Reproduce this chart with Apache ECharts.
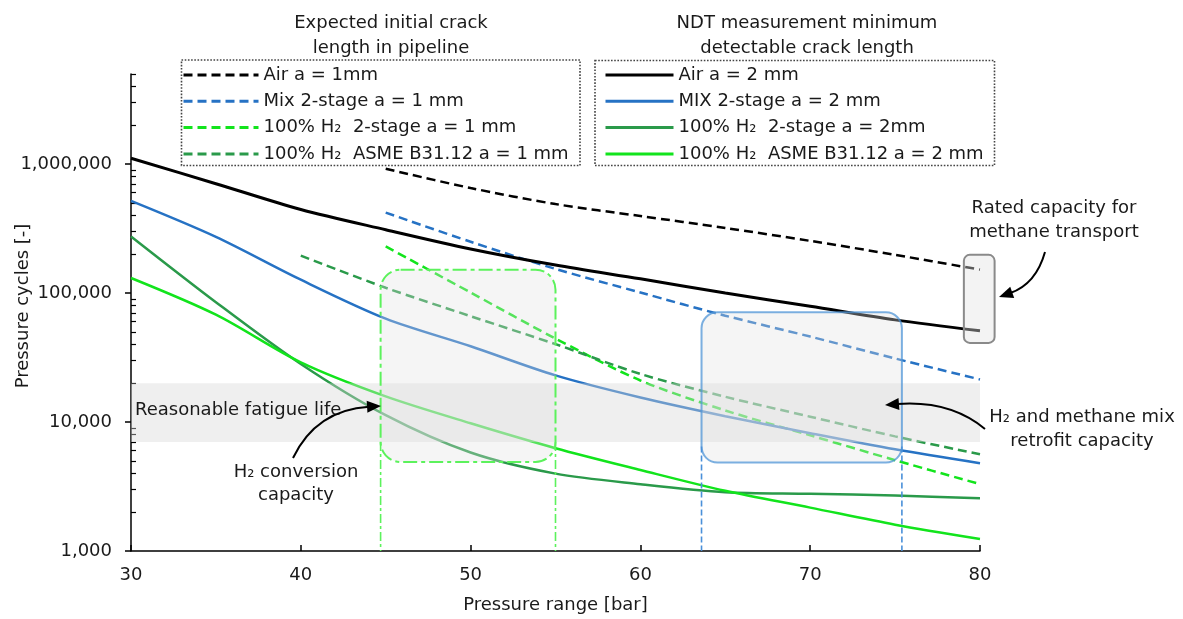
<!DOCTYPE html>
<html>
<head>
<meta charset="utf-8">
<title>Pressure cycles vs pressure range</title>
<script src="https://cdn.jsdelivr.net/npm/echarts@6/dist/echarts.min.js"></script>
<style>
html, body { margin: 0; padding: 0; background: #fff; }
#chart { width: 1183px; height: 619px; }
</style>
</head>
<body>
<div id="chart"></div>
<script>
// pressure range [bar]
var pressure = [30, 35, 40, 45, 50, 55, 60, 65, 70, 75, 80];
var pressureFrom40 = [40, 45, 50, 55, 60, 65, 70, 75, 80];
var pressureFrom45 = [45, 50, 55, 60, 65, 70, 75, 80];

// a = 2 mm (solid)
var airA2 = [1110000, 705000, 445000, 310000, 220000, 165000, 129000, 100000, 79000, 62000, 51000];
var mixA2 = [519000, 273000, 127000, 63400, 38700, 23000, 15500, 11100, 8200, 6150, 4800];
var h2StageA2 = [275000, 85000, 28200, 11300, 5800, 3980, 3300, 2860, 2780, 2690, 2560];
var h2AsmeA2 = [131000, 68000, 29000, 15800, 9780, 6270, 4250, 2930, 2170, 1600, 1240];

// a = 1 mm (dashed)
var airA1 = [920000, 653000, 490000, 396000, 320000, 254000, 198000, 152000];
var mixA1 = [421000, 250000, 154000, 101000, 66800, 46000, 31100, 21400];
var h2StageA1 = [230000, 101000, 44400, 21000, 12300, 7890, 5060, 3300];
var h2AsmeA1 = [195000, 110000, 66200, 40200, 23600, 15700, 11000, 7740, 5620];

// axis ticks
var majorTicks = [1000, 10000, 100000, 1000000];
var minorTicks = [2000, 3000, 4000, 5000, 6000, 7000, 8000, 9000,
  20000, 30000, 40000, 50000, 60000, 70000, 80000, 90000,
  200000, 300000, 400000, 500000, 600000, 700000, 800000, 900000,
  2000000, 3000000, 4000000, 5000000];

// annotation ranges (data units)
var fatigueBand = [7000, 20000];
var h2Window = [44.7, 55.0];
var h2WindowCycles = [4900, 152000];
var mixWindow = [63.6, 75.4];
var mixWindowCycles = [4850, 71000];
var ratedWindow = [79.05, 80.86];
var ratedWindowCycles = [41100, 198000];

var FONT = 'DejaVu Sans';
var BLACK = '#000000';
var BLUE = '#2672c4';
var DGREEN = '#2a9a4a';
var LGREEN = '#12e41c';

function pairs(xs, ys) {
  return xs.map(function (x, i) { return [x, ys[i]]; });
}

function lineSeries(name, xs, ys, color, dashed, width) {
  return {
    name: name,
    type: 'line',
    data: pairs(xs, ys),
    symbol: 'none',
    smooth: 0.3,
    z: 2,
    lineStyle: { color: color, width: width || 2.5, type: dashed ? [9, 5] : 'solid' },
    itemStyle: { color: color }
  };
}

var legendLeftNames = ['Air a = 1mm', 'Mix 2-stage a = 1 mm', '100% H₂  2-stage a = 1 mm', '100% H₂  ASME B31.12 a = 1 mm'];
var legendRightNames = ['Air a = 2 mm', 'MIX 2-stage a = 2 mm', '100% H₂  2-stage a = 2mm', '100% H₂  ASME B31.12 a = 2 mm'];

var legendText = { fontFamily: FONT, fontSize: 18, color: '#1a1a1a', lineHeight: 20 };

var chart = echarts.init(document.getElementById('chart'));
var option = {
  animation: false,
  backgroundColor: '#ffffff',
  textStyle: { fontFamily: FONT },
  grid: { left: 131, right: 203, top: 74, bottom: 67 },
  legend: [
    {
      data: legendLeftNames, orient: 'vertical', left: 182, top: 65, padding: 0,
      itemWidth: 75, itemHeight: 14, itemGap: 6.3, z: 10,
      itemStyle: { opacity: 0 },
      lineStyle: { width: 3 },
      textStyle: legendText
    },
    {
      data: legendRightNames, orient: 'vertical', left: 604, top: 65, padding: 0,
      itemWidth: 68, itemHeight: 14, itemGap: 6.3, z: 10,
      itemStyle: { opacity: 0 },
      lineStyle: { width: 3 },
      textStyle: legendText
    }
  ],
  xAxis: {
    type: 'value', min: 30, max: 80, interval: 10,
    name: 'Pressure range [bar]', nameLocation: 'middle', nameGap: 45,
    nameTextStyle: { fontFamily: FONT, fontSize: 18, color: '#1a1a1a' },
    axisLine: { lineStyle: { color: '#000', width: 1.5 } },
    axisTick: { inside: true, length: 6, lineStyle: { color: '#000', width: 1.5 } },
    axisLabel: { fontFamily: FONT, fontSize: 18, color: '#1a1a1a', margin: 15 },
    splitLine: { show: false }
  },
  yAxis: [
    {
      type: 'log', logBase: 10, min: 1000, max: 5000000,
      axisLine: { show: true, lineStyle: { color: '#000', width: 1.5 } },
      axisTick: { show: true, inside: false, length: 6, customValues: majorTicks, lineStyle: { color: '#000', width: 1.5 } },
      axisLabel: {
        fontFamily: FONT, fontSize: 18, color: '#1a1a1a', margin: 19,
        customValues: majorTicks,
        formatter: function (v) { return Math.round(v).toLocaleString('en-US'); }
      },
      splitLine: { show: false }
    },
    {
      type: 'log', logBase: 10, min: 1000, max: 5000000, position: 'left',
      axisLine: { show: false },
      axisTick: { show: true, inside: true, length: 5, customValues: minorTicks, lineStyle: { color: '#000', width: 1.2 } },
      axisLabel: { show: false },
      splitLine: { show: false }
    }
  ],
  series: [
    lineSeries('Air a = 1mm', pressureFrom45, airA1, BLACK, true, 2.5),
    lineSeries('Mix 2-stage a = 1 mm', pressureFrom45, mixA1, BLUE, true),
    lineSeries('100% H₂  2-stage a = 1 mm', pressureFrom45, h2StageA1, LGREEN, true),
    lineSeries('100% H₂  ASME B31.12 a = 1 mm', pressureFrom40, h2AsmeA1, DGREEN, true),
    lineSeries('Air a = 2 mm', pressure, airA2, BLACK, false, 3),
    lineSeries('MIX 2-stage a = 2 mm', pressure, mixA2, BLUE, false),
    lineSeries('100% H₂  2-stage a = 2mm', pressure, h2StageA2, DGREEN, false),
    lineSeries('100% H₂  ASME B31.12 a = 2 mm', pressure, h2AsmeA2, LGREEN, false)
  ]
};
chart.setOption(option);

// ---- annotations ----
function P(x, y) {
  return chart.convertToPixel({ xAxisIndex: 0, yAxisIndex: 0 }, [x, y]);
}

function boxFrom(xr, yr) {
  var a = P(xr[0], yr[1]);
  var b = P(xr[1], yr[0]);
  return { x: a[0], y: a[1], width: b[0] - a[0], height: b[1] - a[1] };
}

function arrow(sx, sy, cx, cy, ex, ey) {
  var dx = ex - cx, dy = ey - cy;
  var len = Math.sqrt(dx * dx + dy * dy);
  var ux = dx / len, uy = dy / len;
  var L = 14, W = 6;
  var bx = ex - ux * L, by = ey - uy * L;
  return [
    {
      type: 'bezierCurve', z: 20,
      shape: { x1: sx, y1: sy, cpx1: cx, cpy1: cy, x2: bx + ux * 2, y2: by + uy * 2 },
      style: { stroke: '#000', lineWidth: 2, fill: null }
    },
    {
      type: 'polygon', z: 20,
      shape: { points: [[ex, ey], [bx - uy * W, by + ux * W], [bx + uy * W, by - ux * W]] },
      style: { fill: '#000' }
    }
  ];
}

function text(str, x, y, align) {
  return {
    type: 'text', z: 20, x: x, y: y,
    style: {
      text: str, fontFamily: FONT, fontSize: 18, fill: '#1a1a1a',
      align: align || 'center', verticalAlign: 'middle'
    }
  };
}

var band = boxFrom([30, 80], fatigueBand);
var gBox = boxFrom(h2Window, h2WindowCycles);
var bBox = boxFrom(mixWindow, mixWindowCycles);
var rBox = boxFrom(ratedWindow, ratedWindowCycles);
var axisBottom = P(30, 1000)[1];

var graphics = [
  { type: 'rect', z: 12, shape: band, style: { fill: 'rgba(214,214,214,0.4)' } },
  {
    type: 'rect', z: 13, shape: Object.assign({ r: 20 }, gBox),
    style: { fill: 'rgba(225,225,225,0.33)', stroke: '#5cf25c', lineWidth: 2, lineDash: [14, 4, 4, 4] }
  },
  {
    type: 'rect', z: 13, shape: Object.assign({ r: 16 }, bBox),
    style: { fill: 'rgba(225,225,225,0.33)', stroke: 'rgba(80,150,215,0.75)', lineWidth: 2 }
  },
  {
    type: 'rect', z: 13, shape: Object.assign({ r: 6 }, rBox),
    style: { fill: 'rgba(225,225,225,0.4)', stroke: '#8a8a8a', lineWidth: 2 }
  }
];

[gBox.x, gBox.x + gBox.width].forEach(function (x) {
  graphics.push({
    type: 'line', z: 13,
    shape: { x1: x, y1: gBox.y + gBox.height - 20, x2: x, y2: axisBottom },
    style: { stroke: '#5cf25c', lineWidth: 1.6, lineDash: [9, 3, 3, 3] }
  });
});
[bBox.x, bBox.x + bBox.width].forEach(function (x) {
  graphics.push({
    type: 'line', z: 13,
    shape: { x1: x, y1: bBox.y + bBox.height - 16, x2: x, y2: axisBottom },
    style: { stroke: '#4a90d9', lineWidth: 1.6, lineDash: [6, 3] }
  });
});

// legend frames
graphics.push(
  {
    type: 'rect', z: 9, shape: { x: 181.5, y: 60, width: 398.5, height: 105.5 },
    style: { fill: '#fff', stroke: '#444', lineWidth: 1.6, lineDash: [1.6, 1.6] }
  },
  {
    type: 'rect', z: 9, shape: { x: 595, y: 60.5, width: 399.5, height: 105 },
    style: { fill: '#fff', stroke: '#444', lineWidth: 1.6, lineDash: [1.6, 1.6] }
  }
);

// titles and labels
graphics.push(
  text('Expected initial crack', 391, 23),
  text('length in pipeline', 391, 48),
  text('NDT measurement minimum', 807, 23),
  text('detectable crack length', 807, 48),
  text('Rated capacity for', 1054, 208),
  text('methane transport', 1054, 232),
  text('H₂ and methane mix', 1082, 417),
  text('retrofit capacity', 1082, 441),
  text('H₂ conversion', 296, 472),
  text('capacity', 296, 495),
  text('Reasonable fatigue life', 135, 410, 'left'),
  {
    type: 'text', z: 20, x: 23, y: 306, rotation: Math.PI / 2,
    style: { text: 'Pressure cycles [-]', fontFamily: FONT, fontSize: 18, fill: '#1a1a1a', align: 'center', verticalAlign: 'middle' }
  }
);

graphics = graphics
  .concat(arrow(1045, 252, 1036, 284, 999, 297))
  .concat(arrow(985, 429, 950, 400, 885, 405))
  .concat(arrow(293, 458, 316, 410, 381, 406));

chart.setOption({ graphic: graphics });
</script>
</body>
</html>
